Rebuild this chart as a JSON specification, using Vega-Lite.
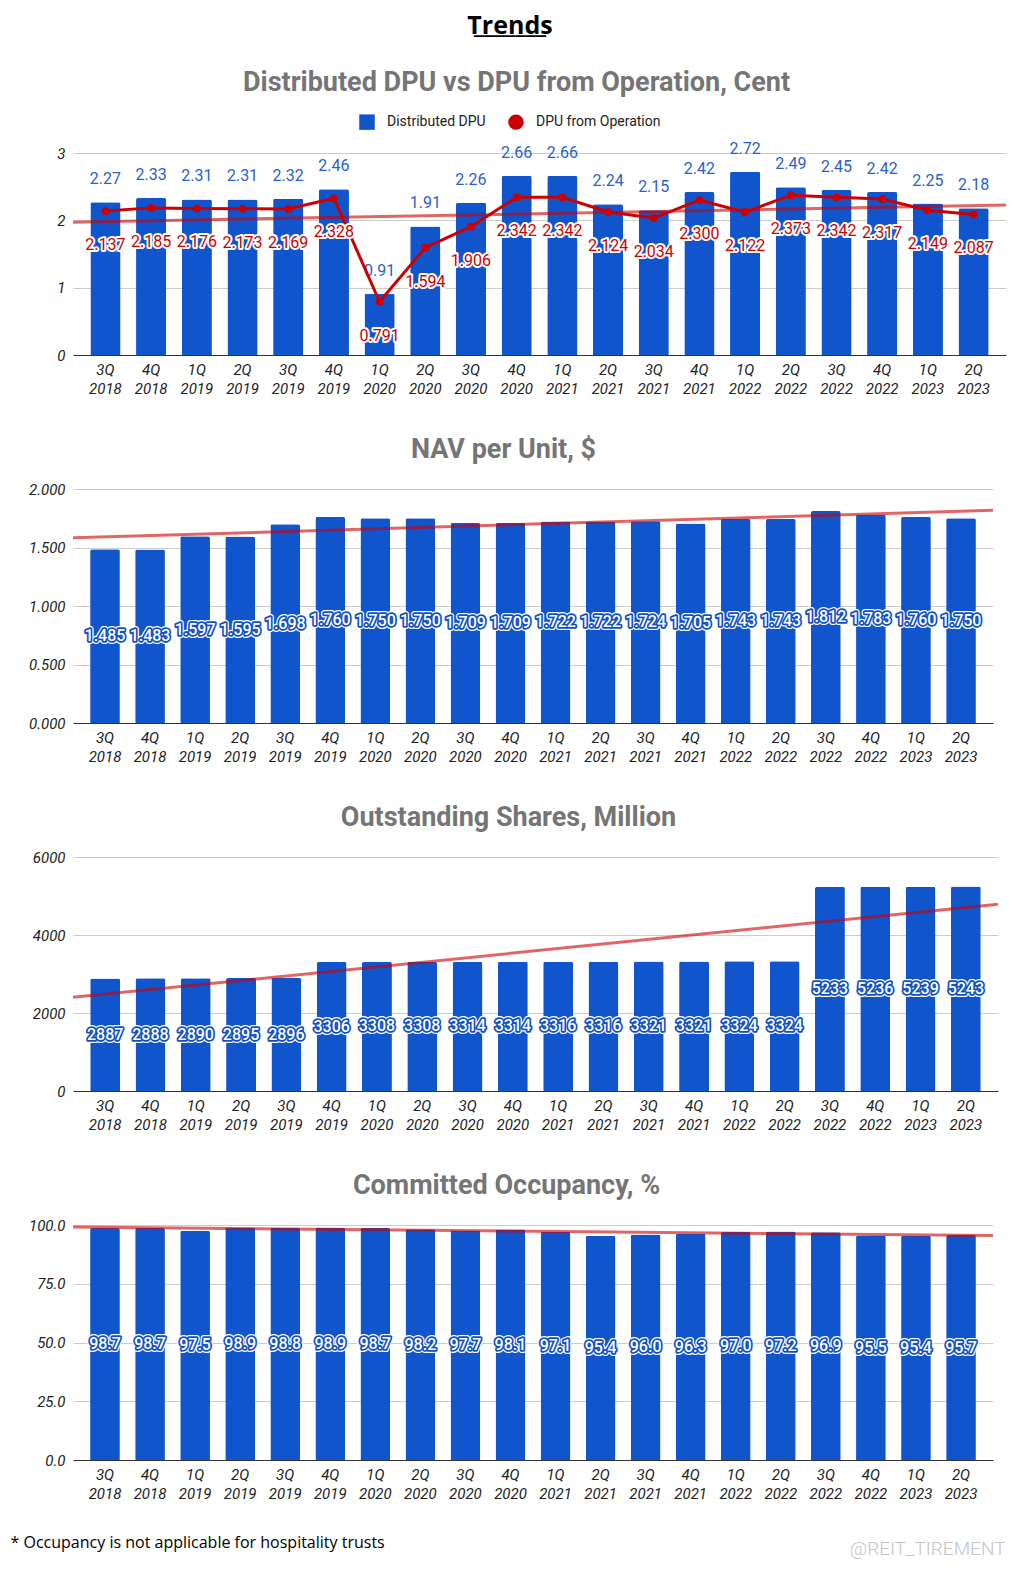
{
  "$schema": "https://vega.github.io/schema/vega-lite/v6.json",
  "background": "white",
  "padding": {"left": 8, "right": 5, "top": 12, "bottom": 5},
  "title": {"text": "Trends", "subtitle": "_______", "font": "Open Sans", "fontSize": 25, "fontWeight": "bold", "color": "#000000", "subtitleFont": "Open Sans", "subtitleFontSize": 25, "subtitleFontWeight": "bold", "subtitleColor": "#000000", "subtitlePadding": -26, "anchor": "middle", "frame": "bounds", "offset": 29},
  "datasets": {
    "d": [
      {"i": 0, "q": "3Q 2018", "dist": 2.27, "op": 2.137, "nav": 1.485, "shares": 2887, "occ": 98.7},
      {"i": 1, "q": "4Q 2018", "dist": 2.33, "op": 2.185, "nav": 1.483, "shares": 2888, "occ": 98.7},
      {"i": 2, "q": "1Q 2019", "dist": 2.31, "op": 2.176, "nav": 1.597, "shares": 2890, "occ": 97.5},
      {"i": 3, "q": "2Q 2019", "dist": 2.31, "op": 2.173, "nav": 1.595, "shares": 2895, "occ": 98.9},
      {"i": 4, "q": "3Q 2019", "dist": 2.32, "op": 2.169, "nav": 1.698, "shares": 2896, "occ": 98.8},
      {"i": 5, "q": "4Q 2019", "dist": 2.46, "op": 2.328, "nav": 1.760, "shares": 3306, "occ": 98.9},
      {"i": 6, "q": "1Q 2020", "dist": 0.91, "op": 0.791, "nav": 1.750, "shares": 3308, "occ": 98.7},
      {"i": 7, "q": "2Q 2020", "dist": 1.91, "op": 1.594, "nav": 1.750, "shares": 3308, "occ": 98.2},
      {"i": 8, "q": "3Q 2020", "dist": 2.26, "op": 1.906, "nav": 1.709, "shares": 3314, "occ": 97.7},
      {"i": 9, "q": "4Q 2020", "dist": 2.66, "op": 2.342, "nav": 1.709, "shares": 3314, "occ": 98.1},
      {"i": 10, "q": "1Q 2021", "dist": 2.66, "op": 2.342, "nav": 1.722, "shares": 3316, "occ": 97.1},
      {"i": 11, "q": "2Q 2021", "dist": 2.24, "op": 2.124, "nav": 1.722, "shares": 3316, "occ": 95.4},
      {"i": 12, "q": "3Q 2021", "dist": 2.15, "op": 2.034, "nav": 1.724, "shares": 3321, "occ": 96.0},
      {"i": 13, "q": "4Q 2021", "dist": 2.42, "op": 2.300, "nav": 1.705, "shares": 3321, "occ": 96.3},
      {"i": 14, "q": "1Q 2022", "dist": 2.72, "op": 2.122, "nav": 1.743, "shares": 3324, "occ": 97.0},
      {"i": 15, "q": "2Q 2022", "dist": 2.49, "op": 2.373, "nav": 1.743, "shares": 3324, "occ": 97.2},
      {"i": 16, "q": "3Q 2022", "dist": 2.45, "op": 2.342, "nav": 1.812, "shares": 5233, "occ": 96.9},
      {"i": 17, "q": "4Q 2022", "dist": 2.42, "op": 2.317, "nav": 1.783, "shares": 5236, "occ": 95.5},
      {"i": 18, "q": "1Q 2023", "dist": 2.25, "op": 2.149, "nav": 1.760, "shares": 5239, "occ": 95.4},
      {"i": 19, "q": "2Q 2023", "dist": 2.18, "op": 2.087, "nav": 1.750, "shares": 5243, "occ": 95.7}
    ]
  },
  "columns": 1,
  "spacing": 40,
  "align": "none",
  "concat": [
    {
      "width": 933,
      "height": 202,
      "data": {"name": "d"},
      "title": {"text": "Distributed DPU vs DPU from Operation, Cent", "offset": 44},
      "layer": [
        {
          "layer": [
            {
              "mark": {"type": "bar", "color": "#1155cc", "cornerRadiusTopLeft": 2, "cornerRadiusTopRight": 2},
              "encoding": {
                "x": {"field": "q", "type": "ordinal", "sort": null, "title": null, "scale": {"paddingInner": 0.34, "paddingOuter": 0.38}, "axis": {"labelExpr": "split(datum.value, ' ')"}},
                "y": {"field": "dist", "type": "quantitative", "title": null, "scale": {"domain": [0, 3], "nice": false}, "axis": {"values": [0, 0.5, 1, 1.5, 2, 2.5, 3], "format": "d", "labelExpr": "datum.value % 1 === 0 ? datum.label : ''", "gridColor": {"condition": {"test": "datum.value % 1 !== 0", "value": "#e6e6e6"}, "value": "#cccccc"}, "minExtent": 52, "maxExtent": 52}},
                "color": {"datum": "Distributed DPU", "scale": {"domain": ["Distributed DPU", "DPU from Operation"], "range": ["#1155cc", "#cc0000"]}, "legend": {"orient": "none", "legendX": 286, "legendY": -39, "direction": "horizontal", "title": null, "symbolSize": 240, "symbolStrokeWidth": 0, "symbolType": "square", "labelFont": "Roboto", "labelFontSize": 14, "labelColor": "#222222", "labelOffset": 12, "columnPadding": 22, "encode": {"symbols": {"update": {"shape": {"signal": "datum.value === 'Distributed DPU' ? 'square' : 'circle'"}}}}}}
              }
            },
            {
              "mark": {"type": "text", "baseline": "bottom", "dy": -15, "fontSize": 16, "font": "Roboto", "color": "#2a5fcc"},
              "encoding": {
                "x": {"field": "q", "type": "ordinal", "sort": null, "title": null},
                "y": {"field": "dist", "type": "quantitative", "title": null},
                "text": {"field": "dist", "type": "quantitative", "format": ".2f"}
              }
            }
          ]
        },
        {
          "transform": [{"regression": "op", "on": "i", "extent": [-0.71, 19.71]}],
          "mark": {"type": "line", "color": "#cc0000", "opacity": 0.6, "strokeWidth": 3},
          "encoding": {
            "x": {"field": "i", "type": "quantitative", "scale": {"domain": [-0.71, 19.71], "nice": false, "zero": false}, "axis": null},
            "y": {"field": "op", "type": "quantitative", "title": null}
          }
        },
        {
          "encoding": {
            "x": {"field": "q", "type": "ordinal", "sort": null, "title": null, "scale": {"type": "point", "padding": 0.71}, "axis": null},
            "y": {"field": "op", "type": "quantitative", "title": null}
          },
          "layer": [
            {"mark": {"type": "line", "color": "#cc0000", "strokeWidth": 3}},
            {"mark": {"type": "point", "filled": true, "size": 60, "opacity": 1}, "encoding": {"color": {"datum": "DPU from Operation"}}},
            {"mark": {"type": "text", "baseline": "middle", "dy": 34, "fontSize": 16, "font": "Roboto", "color": "#cc0000", "stroke": "white", "strokeWidth": 4, "strokeJoin": "round"}, "encoding": {"text": {"field": "op", "type": "quantitative", "format": ".3f"}}},
            {"mark": {"type": "text", "baseline": "middle", "dy": 34, "fontSize": 16, "font": "Roboto", "color": "#cc0000"}, "encoding": {"text": {"field": "op", "type": "quantitative", "format": ".3f"}}}
          ]
        }
      ],
      "resolve": {"scale": {"x": "independent"}}
    },
    {
      "width": 920,
      "height": 234,
      "data": {"name": "d"},
      "title": {"text": "NAV per Unit, $", "offset": 18},
      "layer": [
        {
          "layer": [
            {
              "mark": {"type": "bar", "color": "#1155cc", "cornerRadiusTopLeft": 2, "cornerRadiusTopRight": 2},
              "encoding": {
                "x": {"field": "q", "type": "ordinal", "sort": null, "title": null, "scale": {"paddingInner": 0.34, "paddingOuter": 0.38}, "axis": {"labelExpr": "split(datum.value, ' ')"}},
                "y": {"field": "nav", "type": "quantitative", "title": null, "scale": {"domain": [0, 2], "nice": false}, "axis": {"values": [0, 0.25, 0.5, 0.75, 1, 1.25, 1.5, 1.75, 2], "format": ".3f", "labelExpr": "(datum.value * 2) % 1 === 0 ? datum.label : ''", "gridColor": {"condition": {"test": "(datum.value * 2) % 1 !== 0", "value": "#e6e6e6"}, "value": "#cccccc"}, "minExtent": 65, "maxExtent": 65}}
              }
            },
            {
              "encoding": {
                "x": {"field": "q", "type": "ordinal", "sort": null, "title": null},
                "y": {"field": "nav", "type": "quantitative", "title": null},
                "text": {"field": "nav", "type": "quantitative", "format": ".3f"}
              },
              "layer": [
                {"mark": {"type": "text", "baseline": "middle", "dy": {"expr": "datum.nav * 58.5"}, "fontSize": 16, "font": "Roboto", "fontWeight": 500, "color": "white", "stroke": "white", "strokeWidth": 6, "strokeJoin": "round"}},
                {"mark": {"type": "text", "baseline": "middle", "dy": {"expr": "datum.nav * 58.5"}, "fontSize": 16, "font": "Roboto", "fontWeight": 500, "color": "white", "stroke": "#1150c4", "strokeWidth": 3.5, "strokeJoin": "round"}},
                {"mark": {"type": "text", "baseline": "middle", "dy": {"expr": "datum.nav * 58.5"}, "fontSize": 16, "font": "Roboto", "fontWeight": 500, "color": "white"}}
              ]
            }
          ]
        },
        {
          "transform": [{"regression": "nav", "on": "i", "extent": [-0.71, 19.71]}],
          "mark": {"type": "line", "color": "#cc0000", "opacity": 0.6, "strokeWidth": 3},
          "encoding": {
            "x": {"field": "i", "type": "quantitative", "scale": {"domain": [-0.71, 19.71], "nice": false, "zero": false}, "axis": null},
            "y": {"field": "nav", "type": "quantitative", "title": null}
          }
        }
      ],
      "resolve": {"scale": {"x": "independent"}}
    },
    {
      "width": 925,
      "height": 234,
      "data": {"name": "d"},
      "title": {"text": "Outstanding Shares, Million", "offset": 18},
      "layer": [
        {
          "layer": [
            {
              "mark": {"type": "bar", "color": "#1155cc", "cornerRadiusTopLeft": 2, "cornerRadiusTopRight": 2},
              "encoding": {
                "x": {"field": "q", "type": "ordinal", "sort": null, "title": null, "scale": {"paddingInner": 0.34, "paddingOuter": 0.38}, "axis": {"labelExpr": "split(datum.value, ' ')"}},
                "y": {"field": "shares", "type": "quantitative", "title": null, "scale": {"domain": [0, 6000], "nice": false}, "axis": {"values": [0, 1000, 2000, 3000, 4000, 5000, 6000], "format": "d", "labelExpr": "datum.value % 2000 === 0 ? datum.label : ''", "gridColor": {"condition": {"test": "datum.value % 2000 !== 0", "value": "#e6e6e6"}, "value": "#cccccc"}, "minExtent": 60, "maxExtent": 60}}
              }
            },
            {
              "encoding": {
                "x": {"field": "q", "type": "ordinal", "sort": null, "title": null},
                "y": {"field": "shares", "type": "quantitative", "title": null},
                "text": {"field": "shares", "type": "quantitative", "format": "d"}
              },
              "layer": [
                {"mark": {"type": "text", "baseline": "middle", "dy": {"expr": "datum.shares * 0.0195"}, "fontSize": 16, "font": "Roboto", "fontWeight": 500, "color": "white", "stroke": "white", "strokeWidth": 6, "strokeJoin": "round"}},
                {"mark": {"type": "text", "baseline": "middle", "dy": {"expr": "datum.shares * 0.0195"}, "fontSize": 16, "font": "Roboto", "fontWeight": 500, "color": "white", "stroke": "#1150c4", "strokeWidth": 3.5, "strokeJoin": "round"}},
                {"mark": {"type": "text", "baseline": "middle", "dy": {"expr": "datum.shares * 0.0195"}, "fontSize": 16, "font": "Roboto", "fontWeight": 500, "color": "white"}}
              ]
            }
          ]
        },
        {
          "transform": [{"regression": "shares", "on": "i", "extent": [-0.71, 19.71]}],
          "mark": {"type": "line", "color": "#cc0000", "opacity": 0.6, "strokeWidth": 3},
          "encoding": {
            "x": {"field": "i", "type": "quantitative", "scale": {"domain": [-0.71, 19.71], "nice": false, "zero": false}, "axis": null},
            "y": {"field": "shares", "type": "quantitative", "title": null}
          }
        }
      ],
      "resolve": {"scale": {"x": "independent"}}
    },
    {
      "width": 920,
      "height": 235,
      "data": {"name": "d"},
      "title": {"text": "Committed Occupancy, %", "offset": 18},
      "layer": [
        {
          "layer": [
            {
              "mark": {"type": "bar", "color": "#1155cc", "cornerRadiusTopLeft": 2, "cornerRadiusTopRight": 2},
              "encoding": {
                "x": {"field": "q", "type": "ordinal", "sort": null, "title": "* Occupancy is not applicable for hospitality trusts", "scale": {"paddingInner": 0.34, "paddingOuter": 0.38}, "axis": {"labelExpr": "split(datum.value, ' ')", "titleAnchor": "start", "titleAlign": "left", "titleX": -63, "titleY": 82, "titleBaseline": "middle", "titleFont": "Open Sans", "titleFontSize": 16, "titleFontWeight": "normal", "titleColor": "#000000"}},
                "y": {"field": "occ", "type": "quantitative", "title": null, "scale": {"domain": [0, 100], "nice": false}, "axis": {"values": [0, 12.5, 25, 37.5, 50, 62.5, 75, 87.5, 100], "format": ".1f", "labelExpr": "datum.value % 25 === 0 ? datum.label : ''", "gridColor": {"condition": {"test": "datum.value % 25 !== 0", "value": "#e6e6e6"}, "value": "#cccccc"}, "minExtent": 65, "maxExtent": 65}}
              }
            },
            {
              "encoding": {
                "x": {"field": "q", "type": "ordinal", "sort": null, "title": "* Occupancy is not applicable for hospitality trusts"},
                "y": {"field": "occ", "type": "quantitative", "title": null},
                "text": {"field": "occ", "type": "quantitative", "format": ".1f"}
              },
              "layer": [
                {"mark": {"type": "text", "baseline": "middle", "dy": {"expr": "datum.occ * 1.175"}, "fontSize": 16, "font": "Roboto", "fontWeight": 500, "color": "white", "stroke": "white", "strokeWidth": 6, "strokeJoin": "round"}},
                {"mark": {"type": "text", "baseline": "middle", "dy": {"expr": "datum.occ * 1.175"}, "fontSize": 16, "font": "Roboto", "fontWeight": 500, "color": "white", "stroke": "#1150c4", "strokeWidth": 3.5, "strokeJoin": "round"}},
                {"mark": {"type": "text", "baseline": "middle", "dy": {"expr": "datum.occ * 1.175"}, "fontSize": 16, "font": "Roboto", "fontWeight": 500, "color": "white"}}
              ]
            }
          ]
        },
        {
          "transform": [{"regression": "occ", "on": "i", "extent": [-0.71, 19.71]}],
          "mark": {"type": "line", "color": "#cc0000", "opacity": 0.6, "strokeWidth": 3},
          "encoding": {
            "x": {"field": "i", "type": "quantitative", "scale": {"domain": [-0.71, 19.71], "nice": false, "zero": false}, "axis": {"orient": "bottom", "labels": false, "ticks": false, "domain": false, "grid": false, "title": "@REIT_TIREMENT", "titleAnchor": "end", "titleAlign": "right", "titleX": 932, "titleY": 88, "titleBaseline": "middle", "titleFont": "Roboto", "titleFontSize": 19, "titleFontWeight": 300, "titleColor": "#c4c4c4"}},
            "y": {"field": "occ", "type": "quantitative", "title": null}
          }
        }
      ],
      "resolve": {"scale": {"x": "independent"}}
    }
  ],
  "config": {
    "view": {"stroke": null},
    "title": {"font": "Roboto", "fontSize": 27, "fontWeight": "bold", "color": "#757575", "anchor": "middle", "frame": "bounds"},
    "axisX": {"labelAngle": 0, "labelFont": "Roboto", "labelFontStyle": "italic", "labelFontSize": 15, "labelColor": "#222222", "labelLineHeight": 19, "labelPadding": 7, "ticks": false, "domainColor": "#333333", "grid": false},
    "axisY": {"labelFont": "Roboto", "labelFontStyle": "italic", "labelFontSize": 15, "labelColor": "#222222", "ticks": false, "domain": false, "labelPadding": 8}
  }
}
